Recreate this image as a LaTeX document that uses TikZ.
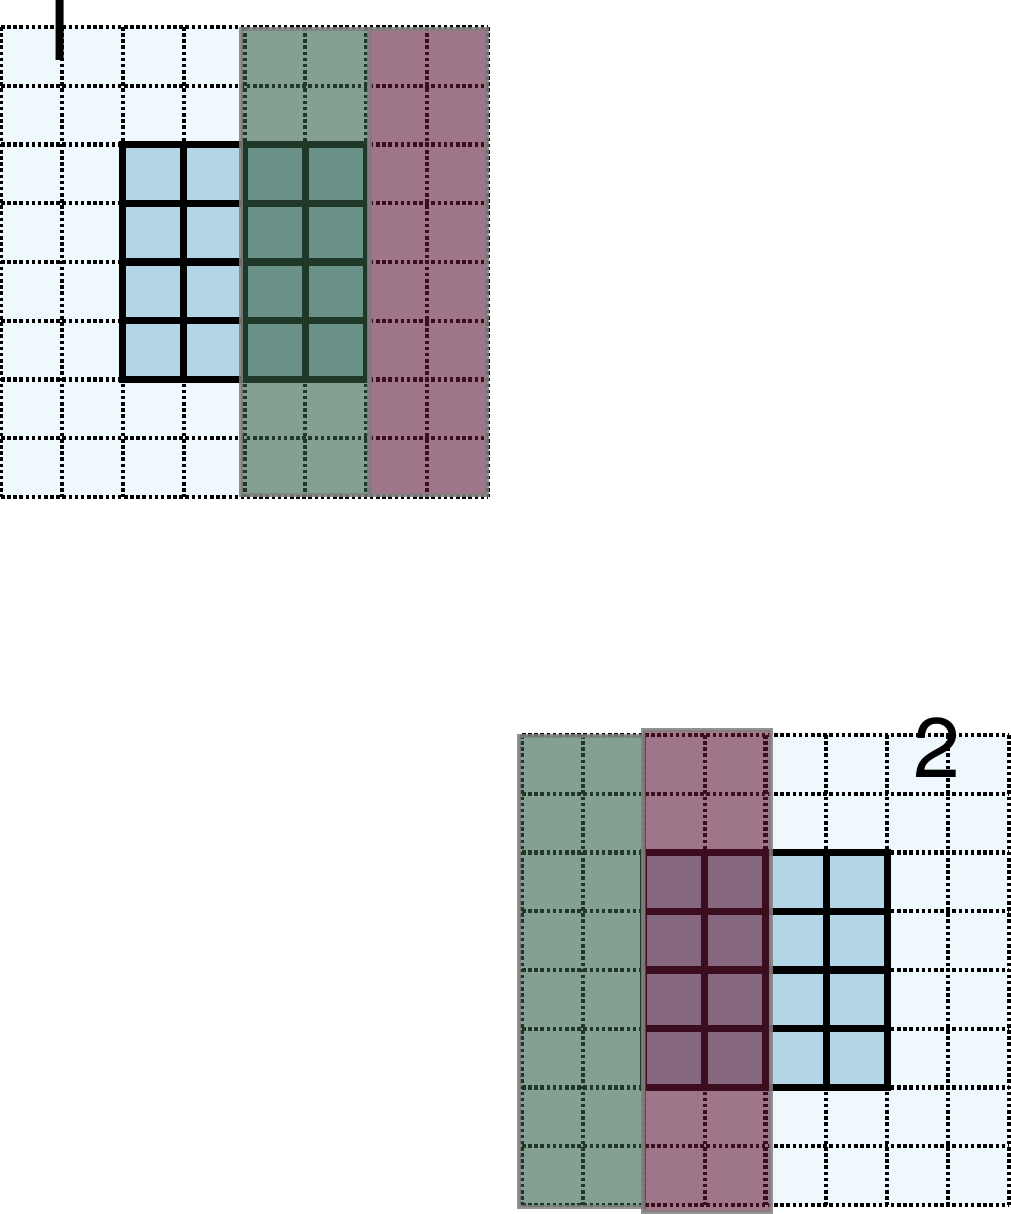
\documentclass[tikz,border=0pt]{standalone}
\usepackage{fontspec}
\setsansfont{TeX Gyre Heros}
\usetikzlibrary{positioning}
\definecolor{paleblue}{HTML}{EEF8FD}
\definecolor{cellblue}{HTML}{B2D6E6}
\definecolor{bandgreen}{RGB}{56,97,69}
\definecolor{bandmauve}{RGB}{102,24,54}
\tikzset{
  dotgrid/.style={line width=2.4pt,dash pattern=on 2pt off 1.5pt},
  thickcell/.style={line width=4.2pt,draw=black,fill=cellblue},
  band/.style={fill=#1,fill opacity=0.58,draw=gray,draw opacity=0.85,line width=2.4pt},
  numlabel/.style={font=\sffamily\fontsize{48}{48}\selectfont,inner sep=0pt}
}
\newcommand{\cw}{60.875}
\newcommand{\ch}{58.75}

\begin{document}
\begin{tikzpicture}[x=0.02cm,y=-0.02cm]
  \useasboundingbox (0,0) rectangle (1011,1214);
  \clip (0,0) rectangle (1011,1214);

  % map 1
  \begin{scope}[shift={(1,27)}]
    \fill[paleblue] (0,0) rectangle (8*\cw,8*\ch);
    \foreach \i in {0,...,8}{
      \draw[dotgrid] (\i*\cw,0) -- (\i*\cw,8*\ch);
      \draw[dotgrid] (0,\i*\ch) -- (8*\cw,\i*\ch);
    }
    \foreach \i in {2,...,5}
      \foreach \j in {2,...,5}
        \draw[thickcell] (\i*\cw,\j*\ch) rectangle ({(\i+1)*\cw},{(\j+1)*\ch});
  \end{scope}
  \draw[band=bandgreen] (241,29) rectangle (369,495);
  \draw[band=bandmauve] (370,29) rectangle (487,495);
  \node[numlabel,font=\sffamily\fontsize{74}{74}\selectfont,xscale=0.7,transform shape,anchor=base] (lab1) at (58,60) {1};

  % map 2
  \begin{scope}[shift={(522,735)}]
    \fill[paleblue] (0,0) rectangle (8*\cw,8*\ch);
    \foreach \i in {0,...,8}{
      \draw[dotgrid] (\i*\cw,0) -- (\i*\cw,8*\ch);
      \draw[dotgrid] (0,\i*\ch) -- (8*\cw,\i*\ch);
    }
    \foreach \i in {2,...,5}
      \foreach \j in {2,...,5}
        \draw[thickcell] (\i*\cw,\j*\ch) rectangle ({(\i+1)*\cw},{(\j+1)*\ch});
  \end{scope}
  \draw[band=bandgreen] (519,736) rectangle (644,1207);
  \draw[band=bandmauve] (643,730) rectangle (771,1212);
  \node[numlabel,anchor=base] (lab2) at (937,777) {2};
\end{tikzpicture}
\end{document}
